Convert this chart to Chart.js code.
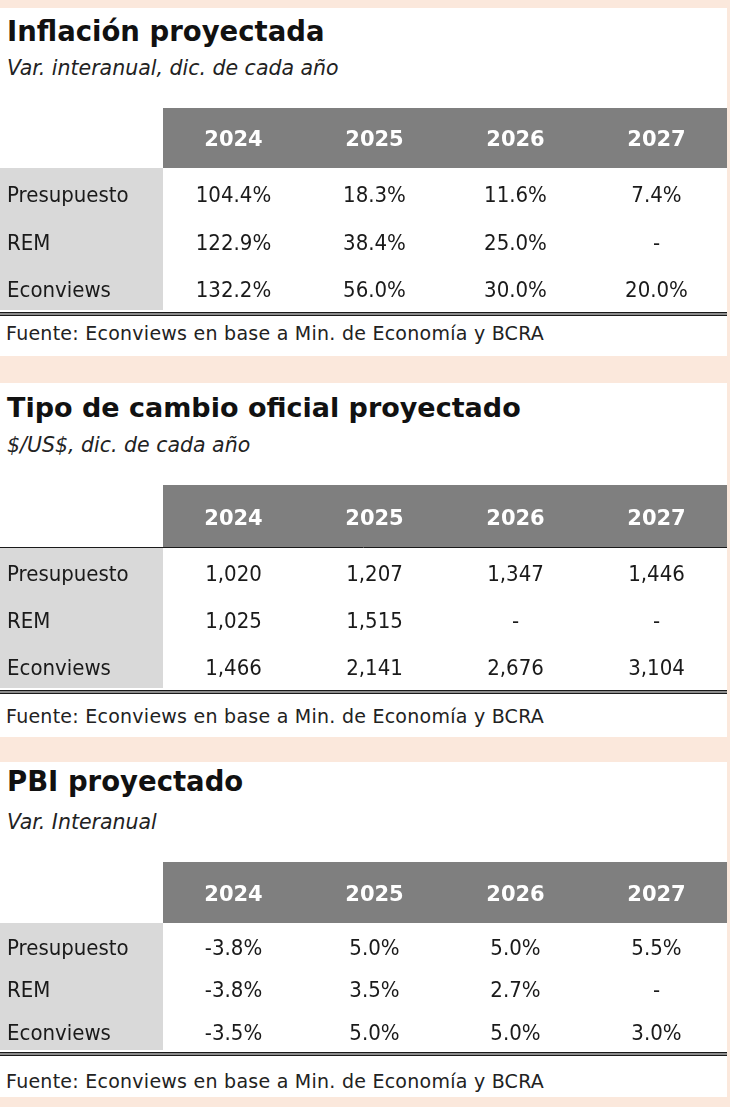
<!DOCTYPE html>
<html>
<head>
<meta charset="utf-8">
<script src="https://cdn.jsdelivr.net/npm/chart.js@4.4.1/dist/chart.umd.min.js"></script>
<style>
  body { margin: 0; width: 730px; height: 1107px; background: #fbe8dc; position: relative; overflow: hidden; }
  .panel { position: absolute; left: 0; width: 727px; background: #fff; }
  .txt { position: absolute; left: 7px; white-space: nowrap; color: #111; font-family: "DejaVu Sans", sans-serif; }
  .title { font-size: 27.5px; line-height: 27px; font-weight: bold; }
  .sub { font-size: 20.5px; line-height: 20px; font-style: italic; color: #222; }
  .src { font-size: 19px; line-height: 18px; left: 6px; color: #222; letter-spacing: 0.25px; }
  canvas { position: absolute; left: 0; }
</style>
</head>
<body>
<div class="panel" style="top:8px;height:348px"></div>
<div class="panel" style="top:383px;height:354px"></div>
<div class="panel" style="top:762px;height:335px"></div>

<div class="txt title" style="top:18px">Inflación proyectada</div>
<div class="txt sub" style="top:58px">Var. interanual, dic. de cada año</div>
<canvas id="inflChart" width="727" height="210" style="top:108px"></canvas>
<div class="txt src" style="top:324px">Fuente: Econviews en base a Min. de Economía y BCRA</div>

<div class="txt title" style="top:394px;font-size:27px">Tipo de cambio oficial proyectado</div>
<div class="txt sub" style="top:435px">$/US$, dic. de cada año</div>
<canvas id="fxChart" width="727" height="211" style="top:485px"></canvas>
<div class="txt src" style="top:707px">Fuente: Econviews en base a Min. de Economía y BCRA</div>

<div class="txt title" style="top:768px">PBI proyectado</div>
<div class="txt sub" style="top:812px">Var. Interanual</div>
<canvas id="gdpChart" width="727" height="196" style="top:862px"></canvas>
<div class="txt src" style="top:1072px">Fuente: Econviews en base a Min. de Economía y BCRA</div>

<script>
// table data
const years = ['2024', '2025', '2026', '2027'];
const rowLabels = ['Presupuesto', 'REM', 'Econviews'];

const inflPresupuesto = [104.4, 18.3, 11.6, 7.4];
const inflRem = [122.9, 38.4, 25.0, null];
const inflEconviews = [132.2, 56.0, 30.0, 20.0];

const fxPresupuesto = [1020, 1207, 1347, 1446];
const fxRem = [1025, 1515, null, null];
const fxEconviews = [1466, 2141, 2676, 3104];

const gdpPresupuesto = [-3.8, 5.0, 5.0, 5.5];
const gdpRem = [-3.8, 3.5, 2.7, null];
const gdpEconviews = [-3.5, 5.0, 5.0, 3.0];

const pct = v => v.toFixed(1) + '%';
const thousands = v => v.toLocaleString('en-US');

// formatter per table (kept out of chart options, which would treat functions as scriptable)
const formats = { inflChart: pct, fxChart: thousands, gdpChart: pct };
const headerLines = { fxChart: true };
const rowShift = 5; // text sits a bit below the row centre

const tablePlugin = {
  id: 'tablePlugin',
  beforeDraw(chart) {
    const ctx = chart.ctx, x = chart.scales.x, y = chart.scales.y;
    ctx.save();
    ctx.fillStyle = '#fff';
    ctx.fillRect(0, 0, chart.width, chart.height);
    ctx.fillStyle = '#7f7f7f';
    ctx.fillRect(x.left, x.top, x.right - x.left, x.bottom - x.top);
    ctx.fillStyle = '#d9d9d9';
    ctx.fillRect(0, y.top, y.right, y.bottom - y.top);
    ctx.restore();
  },
  afterDatasetsDraw(chart) {
    const ctx = chart.ctx;
    const fmt = formats[chart.canvas.id];
    ctx.save();
    ctx.font = '22px "DejaVu Sans Condensed", "DejaVu Sans"';
    ctx.fillStyle = '#1a1a1a';
    ctx.textAlign = 'center';
    ctx.textBaseline = 'middle';
    chart.data.datasets.forEach((ds, i) => {
      chart.getDatasetMeta(i).data.forEach((pt, j) => {
        const v = ds.values[j];
        ctx.fillText(v === null ? '-' : fmt(v), pt.x, pt.y + rowShift);
      });
    });
    ctx.restore();
  },
  afterDraw(chart) {
    const ctx = chart.ctx, area = chart.chartArea;
    ctx.save();
    ctx.strokeStyle = '#1a1a1a';
    ctx.lineWidth = 1.5;
    [area.bottom + 2.75, area.bottom + 5.25].forEach(yy => {
      ctx.beginPath(); ctx.moveTo(0, yy); ctx.lineTo(chart.width, yy); ctx.stroke();
    });
    if (headerLines[chart.canvas.id]) {
      ctx.lineWidth = 1;
      ctx.beginPath(); ctx.moveTo(0, area.top + 0.5); ctx.lineTo(chart.width, area.top + 0.5); ctx.stroke();
    }
    ctx.restore();
  }
};

function makeTable(id, series, headerH) {
  new Chart(document.getElementById(id), {
    type: 'scatter',
    data: {
      datasets: series.map((vals, i) => ({
        label: rowLabels[i],
        values: vals,
        data: years.map(yr => ({ x: yr, y: rowLabels[i] })),
        pointRadius: 0
      }))
    },
    options: {
      responsive: false,
      animation: false,
      layout: { padding: { left: 7, right: 0, top: 0, bottom: 8 } },
      plugins: {
        legend: { display: false },
        tooltip: { enabled: false }
      },
      scales: {
        x: {
          type: 'category', labels: years, position: 'top', offset: true,
          grid: { display: false }, border: { display: false },
          ticks: { color: '#fff', padding: 7, font: { family: 'DejaVu Sans', weight: 'bold', size: 21 } },
          afterFit: s => { s.height = headerH; s.paddingLeft = 0; s.paddingRight = 0; }
        },
        y: {
          type: 'category', labels: rowLabels, offset: true,
          grid: { display: false }, border: { display: false },
          ticks: { color: '#1a1a1a', crossAlign: 'far', labelOffset: rowShift,
                   font: { family: '"DejaVu Sans Condensed", "DejaVu Sans"', size: 22 } },
          afterFit: s => { s.width = 156; s.paddingTop = 0; s.paddingBottom = 0; }
        }
      }
    },
    plugins: [tablePlugin]
  });
}

makeTable('inflChart', [inflPresupuesto, inflRem, inflEconviews], 60);
makeTable('fxChart', [fxPresupuesto, fxRem, fxEconviews], 62);
makeTable('gdpChart', [gdpPresupuesto, gdpRem, gdpEconviews], 61);
</script>
</body>
</html>
